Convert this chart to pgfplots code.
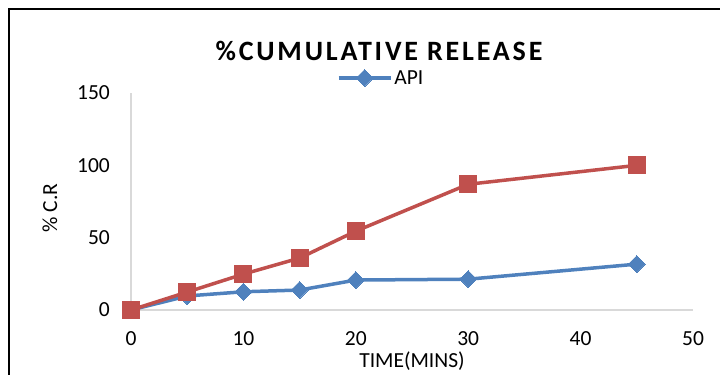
\documentclass[border=0pt]{standalone}
\usepackage{fontspec}
\setmainfont{Carlito}
\newfontfamily\titlefont[LetterSpace=10]{Carlito}
\usepackage{pgfplots}
\pgfplotsset{compat=1.18}
\definecolor{xlblue}{HTML}{4F81BD}
\definecolor{xlred}{HTML}{C0504D}
\definecolor{axgray}{HTML}{D9D9D9}
\begin{document}
\begin{tikzpicture}
\path[use as bounding box] (0,0) rectangle (720bp,375bp);
\draw[line width=2.5bp, black] (9bp,0) -- (9bp,366bp) -- (720bp,366bp);
\begin{axis}[
  at={(131bp,65bp)}, anchor=origin,
  scale only axis, width=562bp, height=217bp,
  xmin=0, xmax=50, ymin=0, ymax=150,
  xtick={0,10,20,30,40,50}, ytick={0,50,100,150},
  axis x line=bottom, axis y line=left,
  axis line style={axgray, line width=1.5bp, -},
  major tick length=0pt,
  clip=false,
  font=\fontsize{21.5bp}{25bp}\selectfont,
  /pgf/number format/assume math mode=true,
  xticklabel style={anchor=north, inner sep=0pt, yshift=-21bp},
  yticklabel style={anchor=east, inner sep=0pt, xshift=-21bp},
  legend style={at={(rel axis cs:0.445,1.069)}, anchor=center, draw=none, fill=none,
    font=\fontsize{21.5bp}{25bp}\selectfont, inner sep=0pt},
  legend image code/.code={%
    \draw[#1, mark repeat=2, mark phase=2] plot coordinates {(0bp,0bp) (26bp,0bp) (52bp,0bp)};},
  legend cell align=left,
]
\addplot[xlblue, line width=3.5bp, mark=square*, mark size=6bp, mark options={solid, rotate=45, fill=xlblue, draw=xlblue, line width=0pt}]
  coordinates {(0,0) (5,9.7) (10,12.6) (15,13.8) (20,20.7) (30,21.3) (45,31.7)};
\addlegendentry{API}
\addplot[xlred, line width=3.5bp, mark=square*, mark size=8.5bp, mark options={solid, fill=xlred, draw=xlred, line width=0pt}, forget plot]
  coordinates {(0,0) (5,12.4) (10,24.8) (15,35.9) (20,54.5) (30,86.9) (45,100)};
\end{axis}
\node[font=\titlefont\bfseries\fontsize{28bp}{32bp}\selectfont, anchor=center] at (379bp,324bp) {\%CUMULATIVE RELEASE};
\node[font=\fontsize{21.5bp}{25bp}\selectfont, rotate=90, anchor=center] at (50bp,167bp) {\% C.R};
\node[font=\fontsize{21.5bp}{25bp}\selectfont, anchor=center] at (412bp,14bp) {TIME(MINS)};
\end{tikzpicture}
\end{document}
